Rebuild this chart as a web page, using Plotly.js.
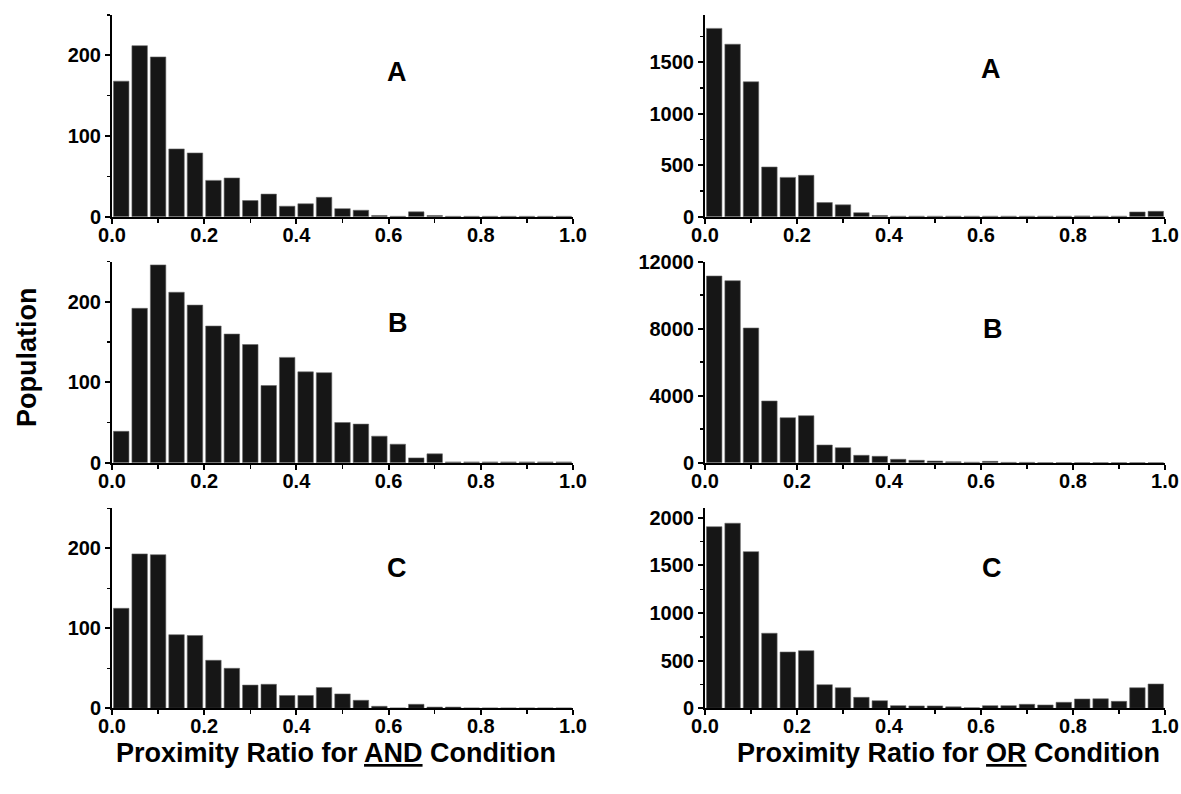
<!DOCTYPE html>
<html>
<head>
<meta charset="utf-8">
<script src="https://cdn.plot.ly/plotly-3.0.1.min.js"></script>
<style>html,body{margin:0;padding:0;background:#fff;}#chart{width:1181px;height:794px;}</style>
</head>
<body>
<div id="chart"></div>
<script>
// Bin centres of the proximity ratio histogram (bin width 0.04)
const binCenters = [0.02,0.06,0.10,0.14,0.18,0.22,0.26,0.30,0.34,0.38,0.42,0.46,0.50,0.54,0.58,0.62,0.66,0.70,0.74,0.78,0.82,0.86,0.90,0.94,0.98];

// AND condition populations
const andA = [168,212,198,84,79,45,48,20,28,13,16,24,10,8,1.5,0.5,6,1.5,0.5,0.5,0.5,0.5,0.5,0.5,0.5];
const andB = [39,192,246,212,196,170,160,147,96,131,113,112,50,48,33,23,6,11,1,1,1,1,1,1,1];
const andC = [125,193,192,92,91,60,50,29,30,16,16,26,18,10,2.5,0.5,5,1.5,1.5,0.5,0.5,0.5,0.5,0.5,0.5];

// OR condition populations
const orA = [1830,1676,1311,483,382,402,137,115,39,12,5,5,5,5,5,5,5,5,5,5,8,5,5,46,52];
const orB = [11146,10866,8042,3684,2687,2806,1057,896,442,382,203,143,100,50,30,80,20,20,10,10,10,10,10,10,10];
const orC = [1907,1943,1645,788,591,605,248,216,115,80,28,25,25,15,5,28,28,42,35,63,98,100,73,216,255];

const panelLabels = ['A','B','C'];
const xTitles = ['Proximity Ratio for <u>AND</u> Condition','Proximity Ratio for <u>OR</u> Condition'];
const yTitle = 'Population';

const FONT = 'Liberation Sans, Arial, Helvetica, sans-serif';
const W = 1181, H = 794;
const px = v => v / W;
const py = v => 1 - v / H;

const panels = [
  {y: andA, col: 0, row: 0, ymax: 250,   dtick: 100},
  {y: orA,  col: 1, row: 0, ymax: 1960,  dtick: 500},
  {y: andB, col: 0, row: 1, ymax: 250,   dtick: 100},
  {y: orB,  col: 1, row: 1, ymax: 12000, dtick: 4000},
  {y: andC, col: 0, row: 2, ymax: 250,   dtick: 100},
  {y: orC,  col: 1, row: 2, ymax: 2100,  dtick: 500}
];

const colX = [[px(112), px(573)], [px(705), px(1165)]];
const rowY = [[py(216.7), py(15)], [py(462.7), py(261.7)], [py(708.3), py(508.3)]];

const data = [];
const layout = {
  width: W, height: H,
  margin: {l: 0, r: 0, t: 0, b: 0},
  paper_bgcolor: '#fff', plot_bgcolor: '#fff',
  showlegend: false,
  bargap: 0.16,
  font: {family: FONT, color: '#000'},
  annotations: []
};

const tickFont = {family: FONT, size: 20, weight: 'bold', color: '#000'};

panels.forEach((p, i) => {
  const n = i + 1;
  const xs = n === 1 ? '' : String(n);
  data.push({
    type: 'bar', x: binCenters, y: p.y,
    xaxis: 'x' + xs, yaxis: 'y' + xs,
    marker: {color: '#161616', line: {color: '#6a6a6a', width: 0.6}},
    hoverinfo: 'x+y'
  });
  layout['xaxis' + xs] = {
    domain: colX[p.col], anchor: 'y' + xs,
    range: [0, 1], tick0: 0, dtick: 0.2, tickformat: '.1f',
    ticks: 'outside', ticklen: 5, tickwidth: 2, tickcolor: '#000',
    ticklabelstandoff: -6,
    minor: {dtick: 0.1, ticks: 'outside', ticklen: 4, tickwidth: 1.5, tickcolor: '#000'},
    showline: true, linewidth: 2, linecolor: '#000',
    showgrid: false, zeroline: false,
    tickfont: tickFont
  };
  layout['yaxis' + xs] = {
    domain: rowY[p.row], anchor: 'x' + xs,
    range: [0, p.ymax], tick0: 0, dtick: p.dtick, tickformat: 'd',
    ticks: 'outside', ticklen: 5, tickwidth: 2, tickcolor: '#000',
    minor: {dtick: p.dtick / 2, ticks: 'outside', ticklen: 3, tickwidth: 1.5, tickcolor: '#000'},
    showline: true, linewidth: 2, linecolor: '#000',
    showgrid: false, zeroline: false,
    tickfont: tickFont
  };
});

// Panel letters
const letterPos = [[397, 72], [991, 69], [398, 323], [993, 329], [397, 568], [992, 568]];
letterPos.forEach((pos, i) => {
  layout.annotations.push({
    xref: 'paper', yref: 'paper', x: px(pos[0]), y: py(pos[1]),
    xanchor: 'center', yanchor: 'middle', showarrow: false,
    text: panelLabels[Math.floor(i / 2)],
    font: {family: FONT, size: 27, weight: 'bold', color: '#000'}
  });
});

// Column titles
[[336, 753], [948, 753]].forEach((pos, i) => {
  layout.annotations.push({
    xref: 'paper', yref: 'paper', x: px(pos[0]), y: py(pos[1]),
    xanchor: 'center', yanchor: 'middle', showarrow: false,
    text: '<b>' + xTitles[i] + '</b>',
    font: {family: FONT, size: 27, color: '#000'}
  });
});

// Shared y title
layout.annotations.push({
  xref: 'paper', yref: 'paper', x: px(27), y: py(358),
  xanchor: 'center', yanchor: 'middle', showarrow: false, textangle: -90,
  text: '<b>' + yTitle + '</b>',
  font: {family: FONT, size: 27, color: '#000'}
});

Plotly.newPlot('chart', data, layout, {displayModeBar: false, staticPlot: true});
</script>
</body>
</html>
